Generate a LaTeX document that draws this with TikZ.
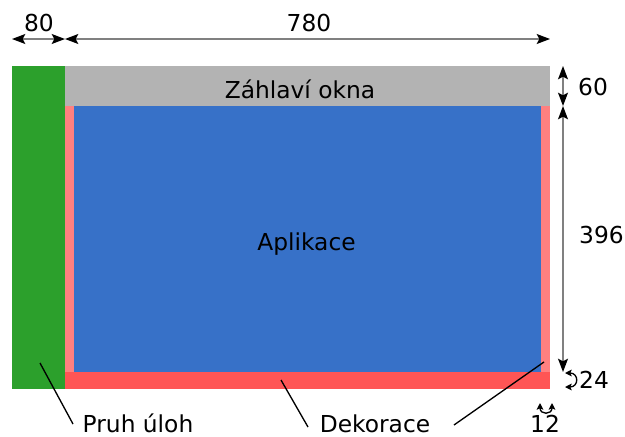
\documentclass[tikz,border=0pt]{standalone}
\usepackage{fontspec}
\setmainfont{DejaVu Sans}
\usetikzlibrary{arrows.meta}
\definecolor{taskgreen}{HTML}{2CA02C}
\definecolor{titlegray}{HTML}{B3B3B3}
\definecolor{appblue}{HTML}{3771C8}
\definecolor{sidepink}{HTML}{FF8080}
\definecolor{bottomred}{HTML}{FF5555}
\definecolor{dimline}{HTML}{808080}
\tikzset{
  lbl/.style={inner sep=0pt, anchor=base},
  dimtip/.tip={Stealth[length=10pt,width=7.5pt,inset=2pt,color=black]},
  dimarrow/.style={draw=dimline, line width=1pt, dimtip-dimtip},
  tinytip/.tip={Stealth[length=5pt,width=5pt,inset=1pt]},
  tinyarrow/.style={draw=black, line width=1pt, tinytip-tinytip},
  leader/.style={draw=black, line width=1pt}
}
\begin{document}
\begin{tikzpicture}[x=0.75pt,y=-0.75pt,font=\fontsize{17.5}{21}\selectfont]
\useasboundingbox (0,0) rectangle (625,436);

% screen areas
\fill[taskgreen]  (12,66)  rectangle (65,389);
\fill[titlegray]  (65,66)  rectangle (550,106);
\fill[sidepink]   (65,106) rectangle (550,372);
\fill[appblue]    (74,106) rectangle (541,372);
\fill[bottomred]  (65,372) rectangle (550,389);

% labels inside the areas
\node[lbl] (title) at (300,98)  {Záhlaví okna};
\node[lbl] (app)   at (306.5,250) {Aplikace};

% dimension end points
\coordinate (wL) at (12,39);
\coordinate (wM) at (65,39);
\coordinate (wR) at (550,39);
\coordinate (hT) at (563,66);
\coordinate (hM) at (563,106);
\coordinate (hB) at (563,372);

\draw[dimarrow] (wL) -- (wM);
\draw[dimarrow] (wM) -- (wR);
\draw[dimarrow] (hT) -- (hM);
\draw[dimarrow] (hM) -- (hB);

\node[lbl] (d80)  at (39,31.5)  {80};
\node[lbl] (d780) at (309,31.5) {780};
\node[lbl] (d60)  at (593,95)   {60};
\node[lbl] (d396) at (601.5,243) {396};
\node[lbl] (d24)  at (594,388)  {24};
\node[lbl] (d12)  at (545,432)  {12};

% small measures of the frame
\coordinate (bT) at (565,373);
\coordinate (bB) at (565,387);
\draw[tinyarrow] (bT) .. controls (579,373) and (579,387) .. (bB);
\coordinate (sL) at (540,403);
\coordinate (sR) at (552,403);
\draw[tinyarrow] (sL) .. controls (540,415) and (552,415) .. (sR);

% callouts
\node[lbl] (task) at (138,432) {Pruh úloh};
\node[lbl] (deco) at (375,432) {Dekorace};
\coordinate (taskpt) at (40,363);
\coordinate (decoA)  at (281,380);
\coordinate (decoB)  at (544,362);
\draw[leader] (taskpt) -- (73,424);
\draw[leader] (decoA) -- (308,427);
\draw[leader] (decoB) -- (454,425);
\end{tikzpicture}
\end{document}
